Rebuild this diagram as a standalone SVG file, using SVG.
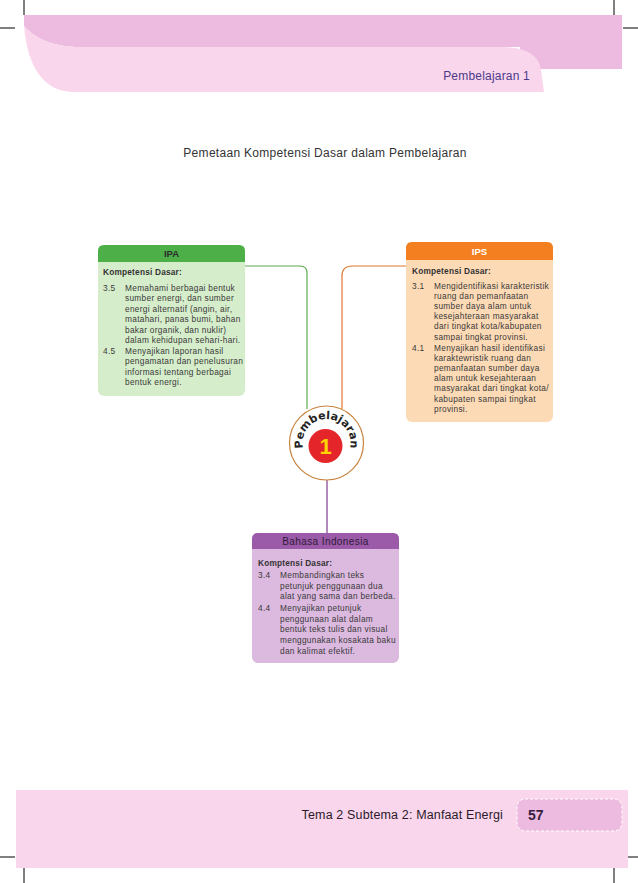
<svg xmlns="http://www.w3.org/2000/svg" xmlns:xlink="http://www.w3.org/1999/xlink" width="638" height="883" viewBox="0 0 638 883">
<defs>
<style>
.crop{stroke:#000;stroke-width:1;fill:none}
.body{font-family:"Liberation Sans",Arial,sans-serif;font-size:8.3px;letter-spacing:0.3px;fill:#3a3a3a}
.kd{font-family:"Liberation Sans",Arial,sans-serif;font-size:8.3px;font-weight:bold;letter-spacing:0.2px;fill:#333}
.hd{font-family:"Liberation Sans",Arial,sans-serif;font-size:9.5px;font-weight:bold;text-anchor:middle}
.conn{fill:none;stroke-width:1.2}
</style>
<path id="arc" d="M311.1,461.4 A24,24 0 1 1 341.9,461.4"/>
</defs>
<rect width="638" height="883" fill="#fff"/>
<g id="header">
<path d="M24,15 H622 V69 H520 V47 H75 Q40,45 24,26 Z" fill="#EDBBE0"/>
<path d="M24,26 Q40,45 75,47 H504 Q538,48 541,70 L544,92 H75 C45,92 28,70 24,26 Z" fill="#FAD6EC"/>
<text x="530" y="80" text-anchor="end" font-family="Liberation Sans,Arial,sans-serif" font-size="12" letter-spacing="0.2" fill="#4B3A8A">Pembelajaran 1</text>
</g>
<g id="crops">
<line class="crop" x1="24" y1="0" x2="24" y2="15"/>
<line class="crop" x1="614" y1="0" x2="614" y2="15"/>
<line class="crop" x1="0" y1="28" x2="15" y2="28"/>
<line class="crop" x1="623" y1="28" x2="638" y2="28"/>
<line class="crop" x1="0" y1="857" x2="15" y2="857"/>
<line class="crop" x1="623" y1="857" x2="638" y2="857"/>
<line class="crop" x1="24" y1="868" x2="24" y2="883"/>
<line class="crop" x1="614" y1="868" x2="614" y2="883"/>
</g>
<text x="325" y="157" text-anchor="middle" font-family="Liberation Sans,Arial,sans-serif" font-size="12" letter-spacing="0.3" fill="#333">Pemetaan Kompetensi Dasar dalam Pembelajaran</text>
<g id="connectors">
<path class="conn" stroke="#5DAA4F" d="M245,266 H300 Q307,266 307,273 V409"/>
<path class="conn" stroke="#E0782D" d="M406,266 H352 Q342,266 342,276 V409"/>
<path class="conn" stroke="#7E3B8E" d="M327,480 V533"/>
</g>
<g id="ipa">
<rect x="98" y="245" width="147" height="151" rx="6" fill="#D6EDCB"/>
<path d="M98,262 V251 Q98,245 104,245 H239 Q245,245 245,251 V262 Z" fill="#4CAF48"/>
<text class="hd" x="171.5" y="257" fill="#2d2d2d">IPA</text>
<text class="kd" x="103" y="275">Kompetensi Dasar:</text>
<text class="body" x="103" y="291">3.5</text>
<text class="body" x="125" y="291">Memahami berbagai bentuk</text>
<text class="body" x="125" y="301.4">sumber energi, dan sumber</text>
<text class="body" x="125" y="311.8">energi alternatif (angin, air,</text>
<text class="body" x="125" y="322.2">matahari, panas bumi, bahan</text>
<text class="body" x="125" y="332.6">bakar organik, dan nuklir)</text>
<text class="body" x="125" y="343">dalam kehidupan sehari-hari.</text>
<text class="body" x="103" y="353.8">4.5</text>
<text class="body" x="125" y="353.8">Menyajikan laporan hasil</text>
<text class="body" x="125" y="364.2">pengamatan dan penelusuran</text>
<text class="body" x="125" y="374.6">informasi tentang berbagai</text>
<text class="body" x="125" y="385">bentuk energi.</text>
</g>
<g id="ips">
<rect x="406" y="242" width="147" height="180" rx="6" fill="#FDDAB6"/>
<path d="M406,260 V248 Q406,242 412,242 H547 Q553,242 553,248 V260 Z" fill="#F47F20"/>
<text class="hd" x="479.5" y="255" fill="#fff">IPS</text>
<text class="kd" x="412" y="274">Kompetensi Dasar:</text>
<text class="body" x="412" y="289">3.1</text>
<text class="body" x="434" y="289">Mengidentifikasi karakteristik</text>
<text class="body" x="434" y="299.1">ruang dan pemanfaatan</text>
<text class="body" x="434" y="309.2">sumber daya alam untuk</text>
<text class="body" x="434" y="319.3">kesejahteraan masyarakat</text>
<text class="body" x="434" y="329.4">dari tingkat kota/kabupaten</text>
<text class="body" x="434" y="339.5">sampai tingkat provinsi.</text>
<text class="body" x="412" y="351">4.1</text>
<text class="body" x="434" y="351">Menyajikan hasil identifikasi</text>
<text class="body" x="434" y="361.1">karaktewristik ruang dan</text>
<text class="body" x="434" y="371.2">pemanfaatan sumber daya</text>
<text class="body" x="434" y="381.3">alam untuk kesejahteraan</text>
<text class="body" x="434" y="391.4">masyarakat dari tingkat kota/</text>
<text class="body" x="434" y="401.5">kabupaten sampai tingkat</text>
<text class="body" x="434" y="411.6">provinsi.</text>
</g>
<g id="center">
<circle cx="326.5" cy="443" r="37" fill="#fff" stroke="#C8843F" stroke-width="1.2"/>
<circle cx="325.5" cy="446" r="17" fill="#E4262A"/>
<text x="325.5" y="454" text-anchor="middle" font-family="Liberation Sans,Arial,sans-serif" font-size="22" font-weight="bold" fill="#FFD400">1</text>
<text font-family="DejaVu Sans,sans-serif" font-size="11" font-weight="bold" fill="#222"><textPath xlink:href="#arc" href="#arc" startOffset="50%" text-anchor="middle">Pembelajaran</textPath></text>
</g>
<g id="bahasa">
<rect x="252" y="533" width="147" height="130" rx="6" fill="#DCB9DF"/>
<path d="M252,549 V539 Q252,533 258,533 H393 Q399,533 399,539 V549 Z" fill="#9C5BA8"/>
<text x="325.5" y="545" text-anchor="middle" font-family="Liberation Sans,Arial,sans-serif" font-size="10" letter-spacing="0.4" fill="#2e1a3a">Bahasa Indonesia</text>
<text class="kd" x="258" y="566">Komptensi Dasar:</text>
<text class="body" x="258" y="578">3.4</text>
<text class="body" x="280" y="578">Membandingkan teks</text>
<text class="body" x="280" y="588.7">petunjuk penggunaan dua</text>
<text class="body" x="280" y="599.4">alat yang sama dan berbeda.</text>
<text class="body" x="258" y="611">4.4</text>
<text class="body" x="280" y="611">Menyajikan petunjuk</text>
<text class="body" x="280" y="621.7">penggunaan alat dalam</text>
<text class="body" x="280" y="632.4">bentuk teks tulis dan visual</text>
<text class="body" x="280" y="643.1">menggunakan kosakata baku</text>
<text class="body" x="280" y="653.8">dan kalimat efektif.</text>
</g>
<g id="footer">
<rect x="16" y="790" width="612" height="78" fill="#FAD6EC"/>
<rect x="517" y="799" width="105" height="32" rx="8" fill="#EDBBE0" stroke="#fff" stroke-width="1" stroke-dasharray="3,2"/>
<text x="503" y="819" text-anchor="end" font-family="Liberation Sans,Arial,sans-serif" font-size="12.5" letter-spacing="0.15" fill="#2a1a2a">Tema 2 Subtema 2: Manfaat Energi</text>
<text x="528" y="820" font-family="Liberation Sans,Arial,sans-serif" font-size="14" font-weight="bold" fill="#3a2040">57</text>
</g>
</svg>
